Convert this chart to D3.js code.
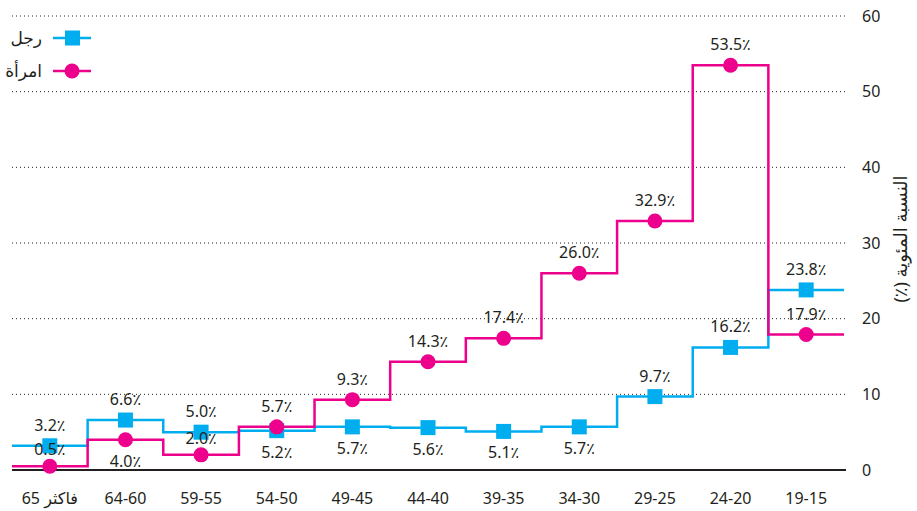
<!DOCTYPE html>
<html><head><meta charset="utf-8">
<script src="https://cdn.jsdelivr.net/npm/d3@7"></script>
<style>
body{margin:0;background:#fff;}
text{font-family:"Noto Sans","DejaVu Sans",sans-serif;fill:#231f20;}
</style></head>
<body><svg id="c" width="917" height="511"></svg>
<script>
const categories = ["65 فاكثر","64-60","59-55","54-50","49-45","44-40","39-35","34-30","29-25","24-20","19-15"];
const men   = [3.2, 6.6, 5.0, 5.2, 5.7, 5.6, 5.1, 5.7, 9.7, 16.2, 23.8];
const women = [0.5, 4.0, 2.0, 5.7, 9.3, 14.3, 17.4, 26.0, 32.9, 53.5, 17.9];
const menLabelSide   = ["up","up","up","down","down","down","down","down","up","up","up"];
const womenLabelSide = ["up","down","up","up","up","up","up","up","up","up","up"];
const yTicks = [0,10,20,30,40,50,60];
const seriesNames = ["رجل","امرأة"];
const yTitle = "النسبة المئوية (٪)";

const blue = "#00aeef", pink = "#ec008c";
const svg = d3.select("#c");
const x = d3.scaleBand().domain(categories).range([12, 844]).padding(0);
const y = d3.scaleLinear().domain([0, 60]).range([470, 16]);

// grid
svg.append("g").selectAll("line").data(yTicks.filter(d=>d>0)).join("line")
  .attr("x1", 12).attr("x2", 846).attr("y1", d=>y(d)).attr("y2", d=>y(d))
  .attr("stroke", "#231f20").attr("stroke-width", 1).attr("stroke-dasharray", "1,3");

// y axis
const yAxis = d3.axisRight(y).tickValues(yTicks).tickSize(0).tickPadding(17);
const ga = svg.append("g").attr("transform", "translate(845,0)").call(yAxis);
ga.select(".domain").remove();
ga.selectAll("text").style("font-size", "16px").attr("fill", "#231f20");

// x axis labels
const xAxis = d3.axisBottom(x).tickSize(0).tickPadding(23).tickFormat(d => "\u200E" + d);
const gx = svg.append("g").attr("transform", "translate(0,470)").call(xAxis);
gx.select(".domain").remove();
gx.selectAll("text").style("font-size", "16px").attr("fill", "#231f20").attr("direction", "ltr");

// step lines
function stepPts(vals){
  const pts = [];
  categories.forEach((c,i)=>{ pts.push([x(c), y(vals[i])]); pts.push([x(c)+x.bandwidth(), y(vals[i])]); });
  return pts;
}
const line = d3.line();
svg.append("path").attr("d", line(stepPts(men))).attr("fill","none").attr("stroke",blue).attr("stroke-width",2.5);
svg.append("path").attr("d", line(stepPts(women))).attr("fill","none").attr("stroke",pink).attr("stroke-width",2.5);

// zero line
svg.append("line").attr("x1", 12).attr("x2", 846).attr("y1", y(0)).attr("y2", y(0))
  .attr("stroke", "#231f20").attr("stroke-width", 2);

const cx = c => x(c) + x.bandwidth()/2;
// markers
svg.append("g").selectAll("rect").data(men).join("rect")
  .attr("x", (d,i)=>cx(categories[i])-7.5).attr("y", d=>y(d)-7.5)
  .attr("width", 15).attr("height", 15).attr("fill", blue);
svg.append("g").selectAll("circle").data(women).join("circle")
  .attr("cx", (d,i)=>cx(categories[i])).attr("cy", d=>y(d)).attr("r", 7.5).attr("fill", pink);

// labels
function labels(vals, sides){
  svg.append("g").selectAll("text").data(vals).join("text")
    .attr("x", (d,i)=>cx(categories[i]))
    .attr("y", (d,i)=> sides[i]==="up" ? y(d)-15 + (y(d) > 450 ? 4 : 0) : y(d)+27)
    .attr("text-anchor","middle").style("font-size","16px")
    .text(d=>d.toFixed(1)+"٪");
}
labels(men, menLabelSide);
labels(women, womenLabelSide);

// legend
const lg = svg.append("g");
[[blue,"rect"],[pink,"circle"]].forEach(([col,shape],i)=>{
  const ly = 38 + i*33;
  lg.append("line").attr("x1",53).attr("x2",91).attr("y1",ly).attr("y2",ly).attr("stroke",col).attr("stroke-width",2.5);
  if(shape==="rect") lg.append("rect").attr("x",65).attr("y",ly-7.5).attr("width",15).attr("height",15).attr("fill",col);
  else lg.append("circle").attr("cx",72).attr("cy",ly).attr("r",7.5).attr("fill",col);
  lg.append("text").attr("x",42).attr("y",ly+6).attr("text-anchor","end").style("font-size","17px").text(seriesNames[i]);
});

// y title
svg.append("text").attr("transform","translate(901,239) rotate(-90)")
  .attr("direction","rtl")
  .attr("text-anchor","middle").attr("dy","0.35em").style("font-size","18px").text(yTitle);
</script></body></html>
